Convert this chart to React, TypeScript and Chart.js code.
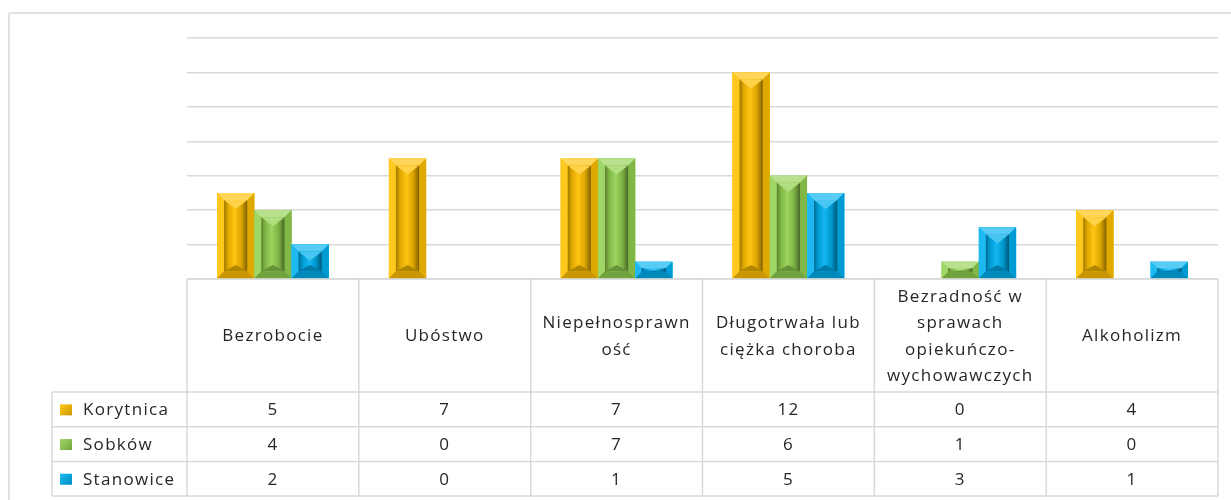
import React, { useEffect, useRef } from "react";
import { Chart, registerables } from "chart.js";

Chart.register(...registerables);

const categoryLines: string[][] = [
  ["Bezrobocie"],
  ["Ubóstwo"],
  ["Niepełnosprawn", "ość"],
  ["Długotrwała lub", "ciężka choroba"],
  ["Bezradność w", "sprawach", "opiekuńczo-", "wychowawczych"],
  ["Alkoholizm"],
];
const seriesNames = ["Korytnica", "Sobków", "Stanowice"];
const korytnica = [5, 7, 7, 12, 0, 4];
const sobkow = [4, 0, 7, 6, 1, 0];
const stanowice = [2, 0, 1, 5, 3, 1];
const seriesColors = ["#FFC000", "#92D050", "#00B0F0"];
const yMax = 14;
const yStep = 2;

const FONT = '"Open Sans", "DejaVu Sans", sans-serif';
const TEXT = "#262626";
const LINE = "#d9d9d9";

function hexToRgb(h: string): number[] {
  const v = parseInt(h.slice(1), 16);
  return [(v >> 16) & 255, (v >> 8) & 255, v & 255];
}
function shade(rgb: number[], f: number): string {
  const c = rgb.map((x) =>
    Math.round(f >= 0 ? x + (255 - x) * f : x * (1 + f))
  );
  return `rgb(${c[0]},${c[1]},${c[2]})`;
}

function poly(ctx: CanvasRenderingContext2D, pts: number[][], fill: string | CanvasGradient) {
  ctx.beginPath();
  ctx.moveTo(pts[0][0], pts[0][1]);
  for (let i = 1; i < pts.length; i++) ctx.lineTo(pts[i][0], pts[i][1]);
  ctx.closePath();
  ctx.fillStyle = fill;
  ctx.fill();
}

function drawBevelBar(ctx: CanvasRenderingContext2D, x0: number, y0: number, x1: number, y1: number, color: string) {
  const w = x1 - x0;
  const h = y1 - y0;
  if (h < 1) return;
  const rgb = hexToRgb(color);
  const b = Math.max(1, Math.min(7, w / 5, h / 2.6));
  poly(ctx, [[x0, y0], [x1, y0], [x1, y1], [x0, y1]], color);
  poly(ctx, [[x0, y0], [x1, y0], [x1 - b, y0 + b], [x0 + b, y0 + b]], shade(rgb, 0.35));
  poly(ctx, [[x0, y0], [x0 + b, y0 + b], [x0 + b, y1 - b], [x0, y1]], shade(rgb, 0.12));
  poly(ctx, [[x1, y0], [x1, y1], [x1 - b, y1 - b], [x1 - b, y0 + b]], shade(rgb, -0.12));
  poly(ctx, [[x0, y1], [x0 + b, y1 - b], [x1 - b, y1 - b], [x1, y1]], shade(rgb, -0.22));
  const ix0 = x0 + b, ix1 = x1 - b, iy0 = y0 + b, iy1 = y1 - b;
  if (iy1 - iy0 > 0.5) {
    const g = ctx.createLinearGradient(ix0, 0, ix1, 0);
    g.addColorStop(0, shade(rgb, -0.38));
    g.addColorStop(0.18, shade(rgb, -0.12));
    g.addColorStop(0.45, shade(rgb, 0.08));
    g.addColorStop(0.75, shade(rgb, -0.15));
    g.addColorStop(1, shade(rgb, -0.5));
    poly(ctx, [[ix0, iy0], [ix1, iy0], [ix1, iy1], [ix0, iy1]], g);
    const cx = (ix0 + ix1) / 2;
    const vh = Math.min(b * 1.3, (iy1 - iy0) / 2);
    poly(ctx, [[ix0, iy0], [ix1, iy0], [cx, iy0 + vh]], shade(rgb, 0.28));
    const bh = Math.min(b * 0.9, (iy1 - iy0) / 3);
    poly(ctx, [[ix0, iy1], [cx, iy1 - bh], [ix1, iy1]], shade(rgb, -0.3));
  }
}

const bevelPlugin = {
  id: "bevelBars",
  afterDatasetsDraw(chart: any) {
    const ctx: CanvasRenderingContext2D = chart.ctx;
    ctx.save();
    chart.data.datasets.forEach((ds: any, di: number) => {
      const meta = chart.getDatasetMeta(di);
      meta.data.forEach((bar: any) => {
        const p = bar.getProps(["x", "y", "base", "width"], true);
        const x0 = p.x - p.width / 2;
        const x1 = p.x + p.width / 2;
        const top = Math.min(p.y, p.base);
        const bot = Math.max(p.y, p.base);
        drawBevelBar(ctx, x0, top, x1, bot, ds.backgroundColor);
      });
    });
    ctx.restore();
  },
};

const tablePlugin = {
  id: "dataTable",
  afterDraw(chart: any) {
    const ctx: CanvasRenderingContext2D = chart.ctx;
    const { left, right, bottom } = chart.chartArea;
    const xs = chart.scales.x;
    const labels: string[][] = chart.data.labels;
    const n = labels.length;
    const colW = (right - left) / n;
    const headerBottom = 392;
    const rowH = 34.7;
    const legendLeft = 52;
    const tableBottom = headerBottom + rowH * chart.data.datasets.length;

    const line = (ax: number, ay: number, bx: number, by: number) => {
      ctx.beginPath();
      ctx.moveTo(ax, ay);
      ctx.lineTo(bx, by);
      ctx.stroke();
    };

    ctx.save();
    ctx.strokeStyle = LINE;
    ctx.lineWidth = 1.5;
    line(9, 13, 1231, 13);
    line(9, 13, 9, 500);
    line(left, bottom, right, bottom);
    for (let r = 0; r <= chart.data.datasets.length; r++) {
      const y = headerBottom + r * rowH;
      line(legendLeft, y, right, y);
    }
    for (let i = 0; i <= n; i++) {
      const x = left + i * colW;
      line(x, bottom, x, tableBottom);
    }
    line(legendLeft, headerBottom, legendLeft, tableBottom);

    ctx.fillStyle = TEXT;
    ctx.font = `17px ${FONT}`;
    (ctx as any).letterSpacing = "1.3px";
    ctx.textAlign = "center";
    ctx.textBaseline = "middle";
    const hc = (bottom + headerBottom) / 2 + 1;
    labels.forEach((lines, i) => {
      const cx = xs.getPixelForValue(i);
      lines.forEach((t, k) => {
        ctx.fillText(t, cx, hc + (k - (lines.length - 1) / 2) * 26.5);
      });
    });

    chart.data.datasets.forEach((ds: any, r: number) => {
      const cy = headerBottom + rowH * (r + 0.5) + 1;
      ctx.textAlign = "center";
      ctx.fillStyle = TEXT;
      ds.data.forEach((v: number, i: number) => {
        ctx.fillText(String(v), xs.getPixelForValue(i), cy);
      });
      const rgb = hexToRgb(ds.backgroundColor);
      const g = ctx.createLinearGradient(60, cy - 5, 72, cy + 5);
      g.addColorStop(0, shade(rgb, 0.1));
      g.addColorStop(1, shade(rgb, -0.2));
      ctx.fillStyle = g;
      ctx.fillRect(60, cy - 6, 12, 11);
      ctx.fillStyle = TEXT;
      ctx.textAlign = "left";
      ctx.fillText(ds.label, 83, cy);
    });
    ctx.restore();
  },
};

export default function App() {
  const ref = useRef<HTMLCanvasElement | null>(null);
  useEffect(() => {
    if (!ref.current) return;
    const datasetsData = [korytnica, sobkow, stanowice];
    const chart = new Chart(ref.current, {
      type: "bar",
      data: {
        labels: categoryLines as any,
        datasets: datasetsData.map((d, i) => ({
          label: seriesNames[i],
          data: d,
          backgroundColor: seriesColors[i],
          borderWidth: 0,
          categoryPercentage: 0.65,
          barPercentage: 1.0,
        })),
      },
      options: {
        animation: false,
        responsive: false,
        devicePixelRatio: 1,
        layout: { padding: { left: 187, right: 13, top: 38, bottom: 221 } },
        plugins: {
          legend: { display: false },
          tooltip: { enabled: false },
          title: { display: false },
        },
        scales: {
          x: { display: false, offset: true },
          y: {
            min: 0,
            max: yMax,
            display: true,
            ticks: { display: false, stepSize: yStep },
            border: { display: false },
            grid: { color: LINE, lineWidth: 1.5, drawTicks: false },
          },
        },
      },
      plugins: [bevelPlugin, tablePlugin],
    });
    return () => chart.destroy();
  }, []);
  return (
    <div style={{ position: "fixed", left: 0, top: 0, width: 1231, height: 500, background: "#fff" }}>
      <canvas ref={ref} width={1231} height={500} style={{ display: "block" }} />
    </div>
  );
}
